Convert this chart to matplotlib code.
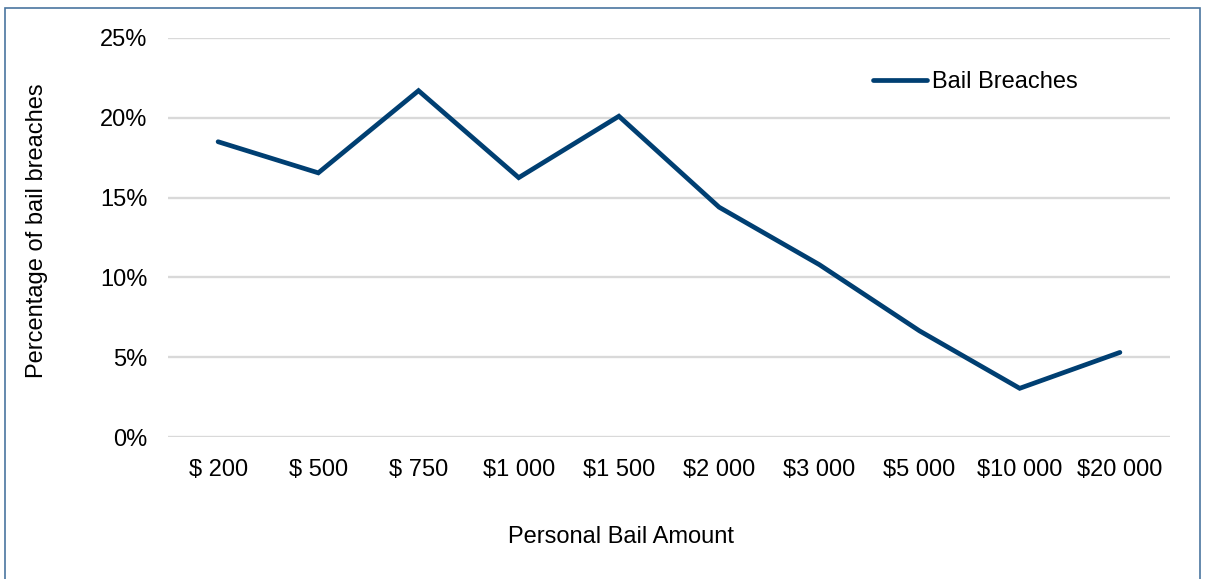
import matplotlib.pyplot as plt
from matplotlib.patches import Rectangle

plt.rcParams['font.family'] = ['Liberation Sans', 'DejaVu Sans']

categories = ['$ 200', '$ 500', '$ 750', '$1 000', '$1 500',
              '$2 000', '$3 000', '$5 000', '$10 000', '$20 000']
breach_pct = [18.5, 16.55, 21.7, 16.25, 20.1, 14.4, 10.8, 6.65, 3.05, 5.3]
y_ticks = [0, 5, 10, 15, 20, 25]

line_color = '#003F72'
grid_color = '#D9D9D9'

fig = plt.figure(figsize=(12.06, 5.79), dpi=100)
ax = fig.add_axes([168 / 1206, 1 - 437 / 579, (1170 - 168) / 1206, (437 - 38) / 579])

x = list(range(len(categories)))
ax.plot(x, breach_pct, color=line_color, linewidth=3.4,
        solid_capstyle='round', solid_joinstyle='miter', label='Bail Breaches', zorder=3)

ax.set_xlim(-0.5, len(categories) - 0.5)
ax.set_ylim(0, 25)
ax.set_yticks(y_ticks)
ax.set_yticklabels([f'{v}%' for v in y_ticks], fontsize=17)
ax.set_xticks(x)
ax.set_xticklabels(categories, fontsize=17)
ax.tick_params(length=0)
ax.tick_params(axis='x', pad=16)
ax.tick_params(axis='y', pad=15)

for v in y_ticks:
    ax.axhline(v, color=grid_color, linewidth=1.7, zorder=1)
for s in ax.spines.values():
    s.set_visible(False)

fig.text(37 / 1206, 1 - 231 / 579, 'Percentage of bail breaches', rotation=90,
         fontsize=17, ha='center', va='center')
fig.text(621 / 1206, 1 - 537 / 579, 'Personal Bail Amount',
         fontsize=17, ha='center', va='center')

ax.legend(loc='center left', bbox_to_anchor=(873 / 1206, 1 - 82 / 579),
          bbox_transform=fig.transFigure, frameon=False, fontsize=17,
          handlelength=2.3, handletextpad=0.2, borderpad=0, borderaxespad=0)

# outer chart border (left, top, right visible)
fig.patches.append(Rectangle((5 / 1206, -0.05), (1200 - 5) / 1206, 1.05 - 8 / 579,
                             transform=fig.transFigure, fill=False,
                             edgecolor='#4A76A0', linewidth=1.2))

fig.savefig('out.png', dpi=100)
